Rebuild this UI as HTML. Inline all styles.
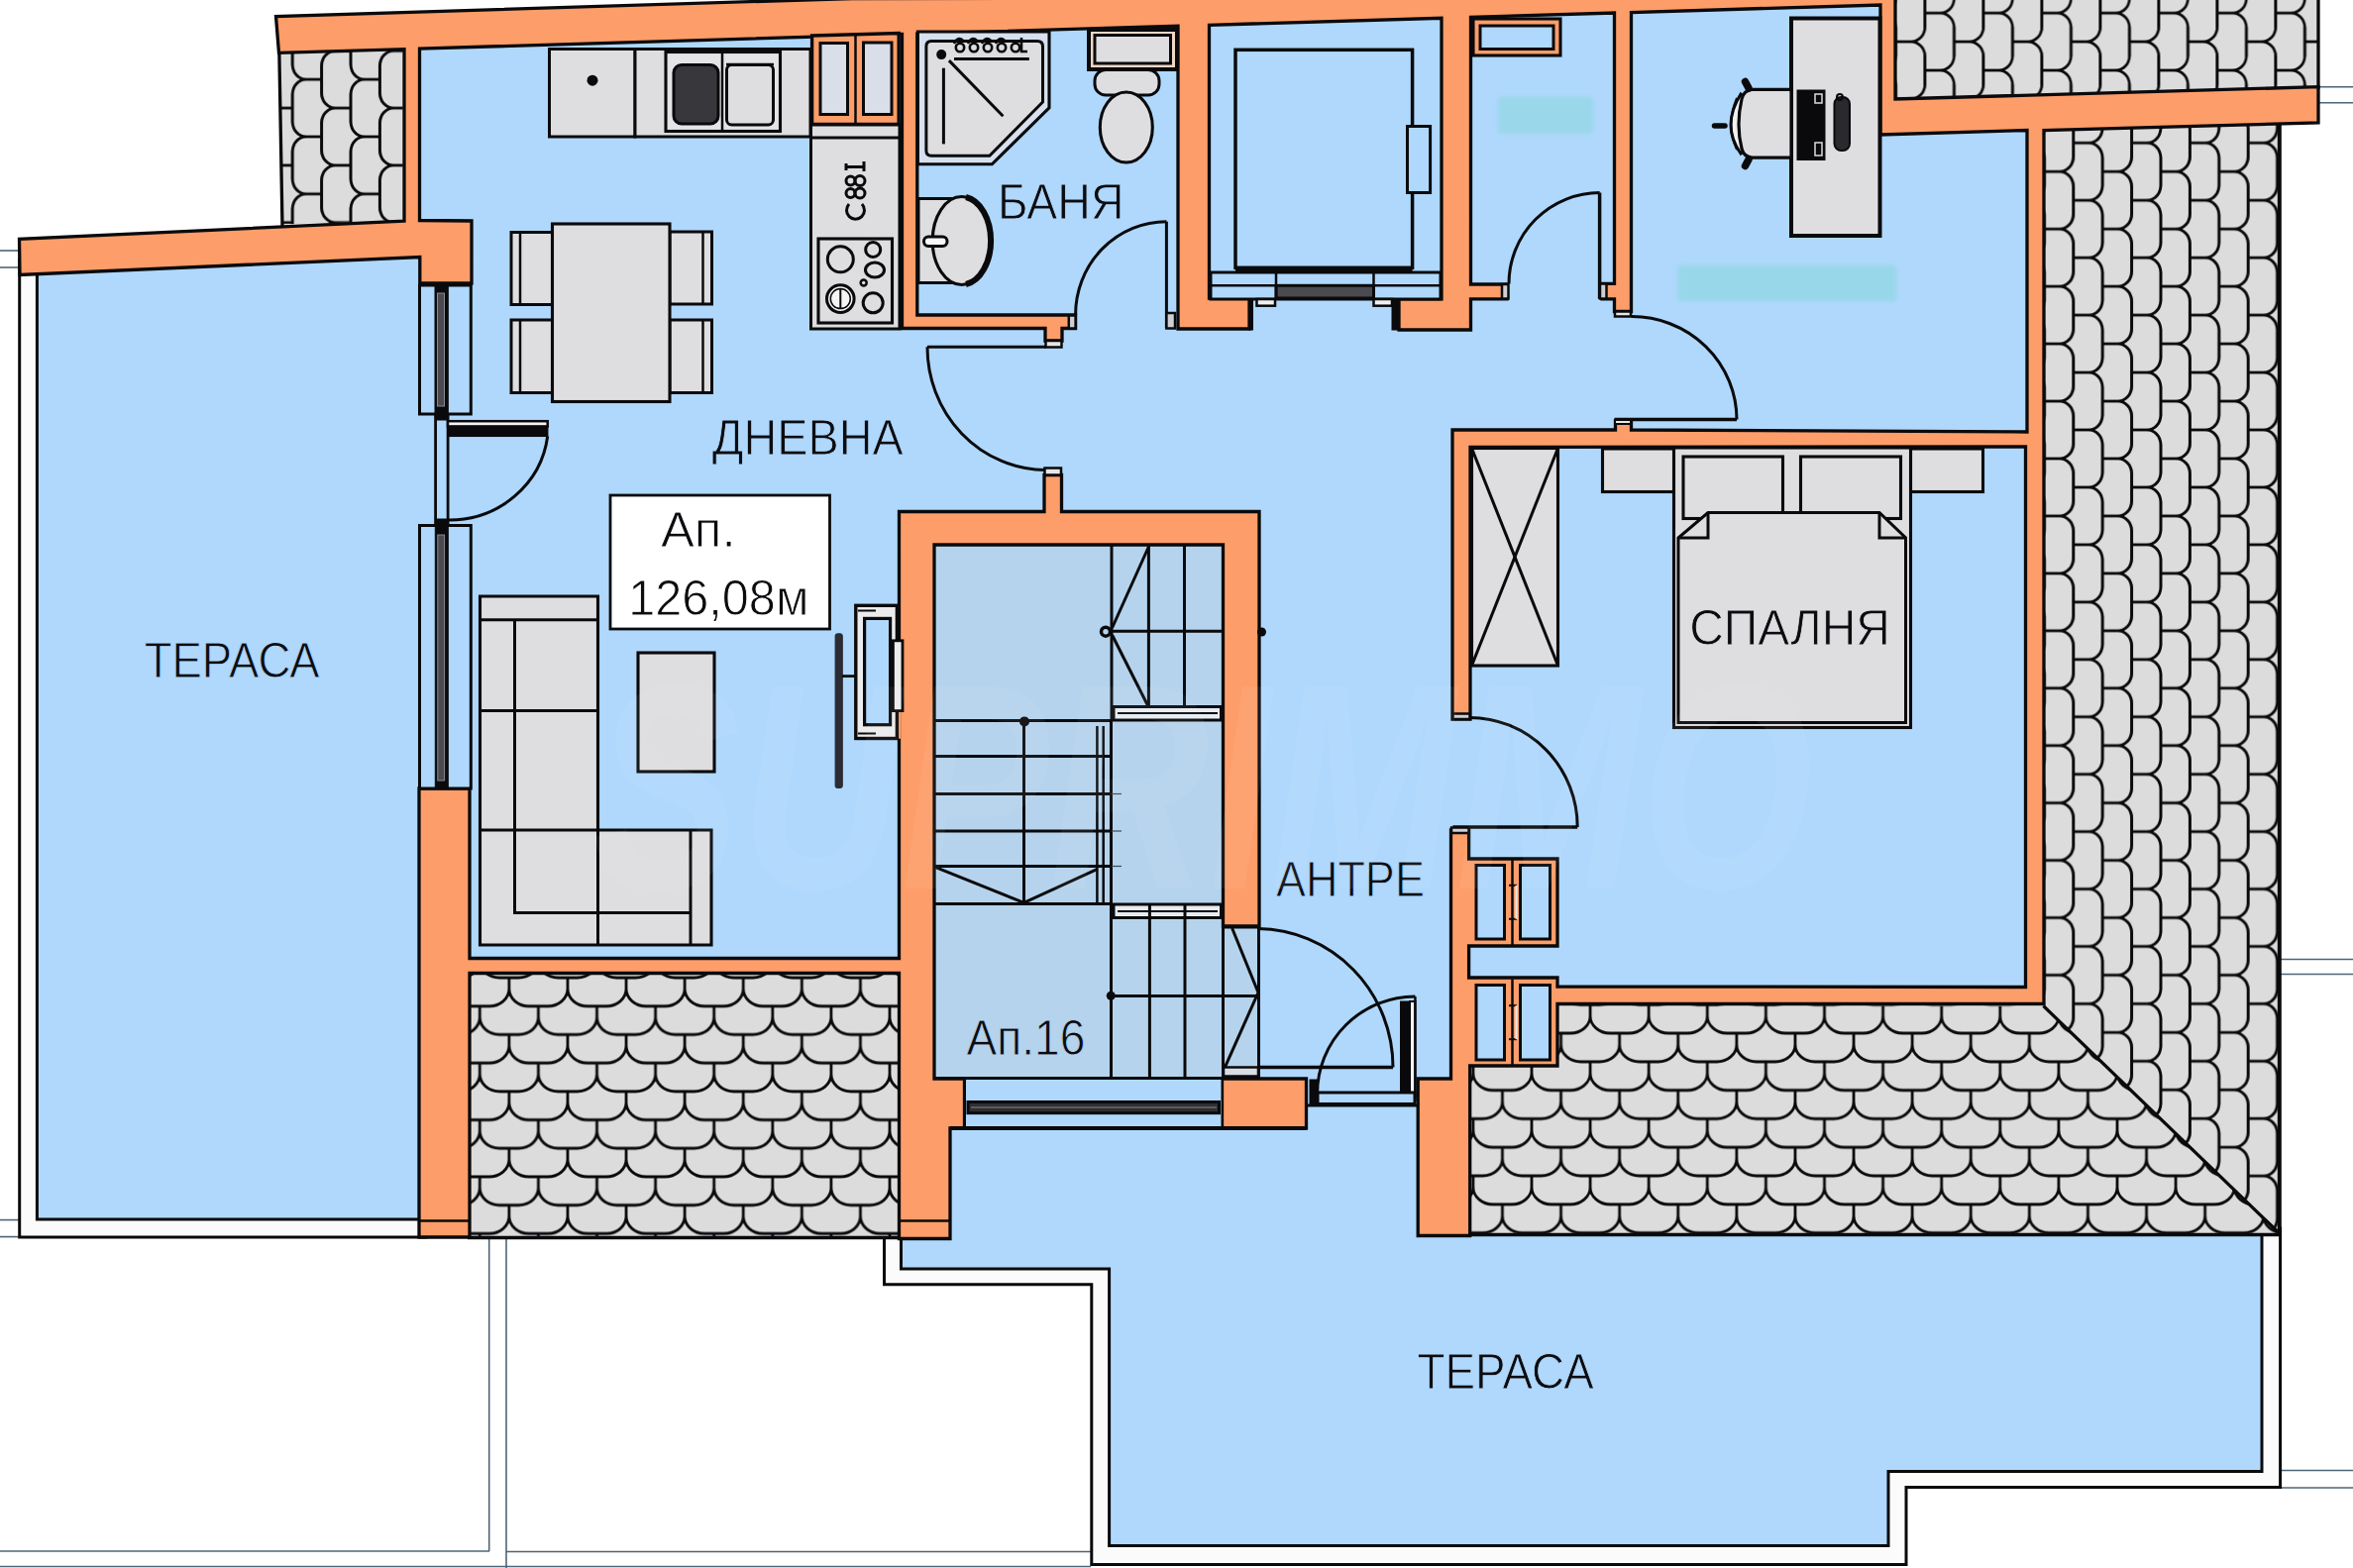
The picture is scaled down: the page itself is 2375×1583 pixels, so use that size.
<!DOCTYPE html>
<html lang="bg"><head><meta charset="utf-8"><title>План на апартамент</title>
<style>
html,body{margin:0;padding:0;background:#fff;}
body{width:2375px;height:1583px;overflow:hidden;}
svg{display:block;}
text{font-family:"Liberation Sans","DejaVu Sans",sans-serif;fill:#0c0c10;}
</style></head><body>
<svg width="2375" height="1583" viewBox="0 0 2375 1583">
<defs>
<pattern id="pDownL" patternUnits="userSpaceOnUse" width="59.10" height="57.40" patternTransform="translate(513.85,987.1)"><rect x="-2" y="-2" width="63.10" height="61.40" fill="#dcdcdc"/><path d="M0,0.00 L0,11.20 A20.0,17.5 0 0 0 20.00,28.70 L39.10,28.70 A20.0,17.5 0 0 0 59.10,11.20 L59.10,0.00 M29.55,28.70 L29.55,39.90 A20.0,17.5 0 0 0 49.55,57.40 L60.10,57.40 M29.55,39.90 A20.0,17.5 0 0 1 9.55,57.40 L-1.00,57.40 M29.55,-28.70 L29.55,-17.50 A20.0,17.5 0 0 0 49.55,0.00 L60.10,0.00 M29.55,-17.50 A20.0,17.5 0 0 1 9.55,0.00 L-1.00,0.00 M0,57.40 L0,68.60 A20.0,17.5 0 0 0 20.00,86.10 L39.10,86.10 A20.0,17.5 0 0 0 59.10,68.60 L59.10,57.40 " fill="none" stroke="#0a0a0c" stroke-width="2.8"/></pattern>
<pattern id="pDownR" patternUnits="userSpaceOnUse" width="59.10" height="57.60" patternTransform="translate(1605.1,1014.3)"><rect x="-2" y="-2" width="63.10" height="61.60" fill="#dcdcdc"/><path d="M0,0.00 L0,11.30 A20.0,17.5 0 0 0 20.00,28.80 L39.10,28.80 A20.0,17.5 0 0 0 59.10,11.30 L59.10,0.00 M29.55,28.80 L29.55,40.10 A20.0,17.5 0 0 0 49.55,57.60 L60.10,57.60 M29.55,40.10 A20.0,17.5 0 0 1 9.55,57.60 L-1.00,57.60 M29.55,-28.80 L29.55,-17.50 A20.0,17.5 0 0 0 49.55,0.00 L60.10,0.00 M29.55,-17.50 A20.0,17.5 0 0 1 9.55,0.00 L-1.00,0.00 M0,57.60 L0,68.90 A20.0,17.5 0 0 0 20.00,86.40 L39.10,86.40 A20.0,17.5 0 0 0 59.10,68.90 L59.10,57.60 " fill="none" stroke="#0a0a0c" stroke-width="2.8"/></pattern>
<pattern id="pRight" patternUnits="userSpaceOnUse" width="57.94" height="58.80" patternTransform="matrix(0 1 1 0 2063.4 57.4)"><rect x="-2" y="-2" width="61.94" height="62.80" fill="#dcdcdc"/><path d="M0,0.00 L0,15.40 A15.0,14.0 0 0 0 15.00,29.40 L42.94,29.40 A15.0,14.0 0 0 0 57.94,15.40 L57.94,0.00 M28.97,29.40 L28.97,44.80 A15.0,14.0 0 0 0 43.97,58.80 L58.94,58.80 M28.97,44.80 A15.0,14.0 0 0 1 13.97,58.80 L-1.00,58.80 M28.97,-29.40 L28.97,-14.00 A15.0,14.0 0 0 0 43.97,0.00 L58.94,0.00 M28.97,-14.00 A15.0,14.0 0 0 1 13.97,0.00 L-1.00,0.00 M0,58.80 L0,74.20 A15.0,14.0 0 0 0 15.00,88.20 L42.94,88.20 A15.0,14.0 0 0 0 57.94,74.20 L57.94,58.80 " fill="none" stroke="#0a0a0c" stroke-width="2.8"/></pattern>
<pattern id="pTopR" patternUnits="userSpaceOnUse" width="57.80" height="59.00" patternTransform="matrix(0 1 1 0 1913.4 42.1)"><rect x="-2" y="-2" width="61.80" height="63.00" fill="#dcdcdc"/><path d="M0,0.00 L0,15.50 A15.0,14.0 0 0 0 15.00,29.50 L42.80,29.50 A15.0,14.0 0 0 0 57.80,15.50 L57.80,0.00 M28.90,29.50 L28.90,45.00 A15.0,14.0 0 0 0 43.90,59.00 L58.80,59.00 M28.90,45.00 A15.0,14.0 0 0 1 13.90,59.00 L-1.00,59.00 M28.90,-29.50 L28.90,-14.00 A15.0,14.0 0 0 0 43.90,0.00 L58.80,0.00 M28.90,-14.00 A15.0,14.0 0 0 1 13.90,0.00 L-1.00,0.00 M0,59.00 L0,74.50 A15.0,14.0 0 0 0 15.00,88.50 L42.80,88.50 A15.0,14.0 0 0 0 57.80,74.50 L57.80,59.00 " fill="none" stroke="#0a0a0c" stroke-width="2.8"/></pattern>
<pattern id="pLeft" patternUnits="userSpaceOnUse" width="57.80" height="58.80" patternTransform="matrix(0 1 -1 0 412.8 51.3)"><rect x="-2" y="-2" width="61.80" height="62.80" fill="#dcdcdc"/><path d="M0,0.00 L0,15.40 A15.0,14.0 0 0 0 15.00,29.40 L42.80,29.40 A15.0,14.0 0 0 0 57.80,15.40 L57.80,0.00 M28.90,29.40 L28.90,44.80 A15.0,14.0 0 0 0 43.90,58.80 L58.80,58.80 M28.90,44.80 A15.0,14.0 0 0 1 13.90,58.80 L-1.00,58.80 M28.90,-29.40 L28.90,-14.00 A15.0,14.0 0 0 0 43.90,0.00 L58.80,0.00 M28.90,-14.00 A15.0,14.0 0 0 1 13.90,0.00 L-1.00,0.00 M0,58.80 L0,74.20 A15.0,14.0 0 0 0 15.00,88.20 L42.80,88.20 A15.0,14.0 0 0 0 57.80,74.20 L57.80,58.80 " fill="none" stroke="#0a0a0c" stroke-width="2.8"/></pattern>
<clipPath id="clipR"><polygon points="2063,100 2300,100 2300,1247 2063,1013"/></clipPath>
<filter id="soft" x="-10%" y="-30%" width="120%" height="160%"><feGaussianBlur stdDeviation="2.2"/></filter>
</defs>
<rect x="0" y="0" width="2375" height="1583" fill="#ffffff"/>
<line x1="0.0" y1="253.0" x2="19.0" y2="253.0" stroke="#4d6576" stroke-width="1.6" />
<line x1="0.0" y1="270.0" x2="19.0" y2="270.0" stroke="#4d6576" stroke-width="1.6" />
<line x1="0.0" y1="1231.6" x2="20.0" y2="1231.6" stroke="#4d6576" stroke-width="1.6" />
<line x1="0.0" y1="1248.6" x2="20.0" y2="1248.6" stroke="#4d6576" stroke-width="1.6" />
<line x1="493.7" y1="1249.0" x2="493.7" y2="1566.0" stroke="#4d6576" stroke-width="1.6" />
<line x1="511.0" y1="1249.0" x2="511.0" y2="1583.0" stroke="#4d6576" stroke-width="1.6" />
<line x1="0.0" y1="1566.0" x2="494.0" y2="1566.0" stroke="#4d6576" stroke-width="1.6" />
<line x1="511.0" y1="1566.5" x2="1101.0" y2="1566.5" stroke="#4d6576" stroke-width="1.6" />
<line x1="0.0" y1="1581.5" x2="1101.0" y2="1581.5" stroke="#4d6576" stroke-width="1.6" />
<line x1="2302.0" y1="1484.5" x2="2375.0" y2="1484.5" stroke="#4d6576" stroke-width="1.6" />
<line x1="2302.0" y1="1502.0" x2="2375.0" y2="1502.0" stroke="#4d6576" stroke-width="1.6" />
<line x1="2302.0" y1="968.5" x2="2375.0" y2="968.5" stroke="#4d6576" stroke-width="1.6" />
<line x1="2302.0" y1="983.5" x2="2375.0" y2="983.5" stroke="#4d6576" stroke-width="1.6" />
<line x1="2341.0" y1="87.7" x2="2375.0" y2="87.7" stroke="#4d6576" stroke-width="1.6" />
<line x1="2341.0" y1="103.7" x2="2375.0" y2="103.7" stroke="#4d6576" stroke-width="1.6" />
<polygon points="19.7,262.0 430.0,250.0 430.0,1249.0 19.7,1249.0" fill="#fbfbfb" stroke="#0a0a0c" stroke-width="3" stroke-linejoin="miter" />
<polygon points="892.5,1240.0 892.5,1296.8 1101.8,1296.8 1101.8,1579.5 1924.0,1579.5 1924.0,1501.5 2301.6,1501.5 2301.6,1240.0" fill="#fbfbfb" stroke="#0a0a0c" stroke-width="3" stroke-linejoin="miter" />
<polygon points="37.4,262.0 430.0,250.0 430.0,1231.0 37.4,1231.0" fill="#afd8fc" stroke="#0a0a0c" stroke-width="3" stroke-linejoin="miter" />
<polygon points="909.5,1235.0 909.5,1281.0 1119.6,1281.0 1119.6,1560.5 1906.0,1560.5 1906.0,1485.5 2283.0,1485.5 2283.0,1235.0" fill="#afd8fc" stroke="#0a0a0c" stroke-width="3" stroke-linejoin="miter" />
<polygon points="415.0,40.0 1905.0,-6.0 1905.0,112.0 2055.0,112.0 2055.0,1005.0 1475.0,1005.0 1475.0,1240.0 935.0,1240.0 935.0,975.0 440.0,975.0 440.0,800.0 424.0,800.0 424.0,262.0 415.0,262.0" fill="#afd8fc" stroke="none" stroke-width="0" stroke-linejoin="miter" />
<rect x="943.0" y="550.0" width="291.0" height="538.0" fill="#b5d3ec" stroke="none" stroke-width="0" rx="0" />
<rect x="1234.0" y="936.0" width="36.0" height="151.0" fill="#b5d3ec" stroke="none" stroke-width="0" rx="0" />
<polygon points="282.0,53.0 406.8,49.5 406.8,223.0 284.9,226.5" fill="url(#pLeft)" stroke="none" stroke-width="0" stroke-linejoin="miter" />
<line x1="281.8" y1="50.0" x2="285.0" y2="228.0" stroke="#0a0a0c" stroke-width="3.3" />
<polygon points="1914.0,-3.0 2340.0,-3.0 2340.0,88.5 1914.0,100.8" fill="url(#pTopR)" stroke="none" stroke-width="0" stroke-linejoin="miter" />
<polygon points="2063.0,120.0 2300.5,115.0 2300.5,1245.0 2063.0,1016.0" fill="url(#pRight)" stroke="none" stroke-width="0" stroke-linejoin="miter" />
<polygon points="1572.0,1014.5 2062.5,1015.5 2300.5,1245.0 2300.5,1246.5 1483.0,1246.5 1483.0,1076.4 1572.0,1076.4" fill="url(#pDownR)" stroke="none" stroke-width="0" stroke-linejoin="miter" />
<polygon points="474.0,983.5 907.5,983.5 907.5,1249.5 474.0,1249.5" fill="url(#pDownL)" stroke="none" stroke-width="0" stroke-linejoin="miter" />
<line x1="472.0" y1="1249.5" x2="909.0" y2="1249.5" stroke="#0a0a0c" stroke-width="3.4" />
<line x1="2300.8" y1="118.0" x2="2300.8" y2="1248.0" stroke="#0a0a0c" stroke-width="4" />
<line x1="1481.5" y1="1246.5" x2="2302.8" y2="1246.5" stroke="#0a0a0c" stroke-width="3.6" />
<line x1="2062.5" y1="1015.5" x2="2300.5" y2="1245.0" stroke="#0a0a0c" stroke-width="3.2" />
<line x1="2340.0" y1="-2.0" x2="2340.0" y2="90.0" stroke="#0a0a0c" stroke-width="3.3" />
<path d="M408.0,223.2 L19.5,241.4 L20.0,277.5 L423.8,259.5 L423.8,286.0 L476.0,286.0 L476.0,223.0 L423.5,222.5 L423.5,49.1 L910.5,34.5 L910.5,331.5 L1055.0,331.5 L1055.0,344.0 L1072.0,344.0 L1072.0,331.5 L1085.6,331.5 L1085.6,318.0 L925.8,318.0 L925.8,34.1 L1189.0,26.2 L1189.0,332.0 L1261.0,332.0 L1261.0,301.0 L1220.5,301.0 L1220.5,25.3 L1455.0,18.3 L1455.0,301.8 L1412.0,301.8 L1412.0,333.0 L1484.5,333.0 L1484.5,301.8 L1521.0,301.8 L1521.0,287.0 L1484.5,287.0 L1484.5,17.4 L1629.5,13.0 L1629.5,286.4 L1617.0,286.4 L1617.0,301.8 L1629.5,301.8 L1629.5,314.5 L1646.5,314.5 L1646.5,12.5 L1898.0,5.0 L1898.0,136.0 L2046.0,131.5 L2046.0,436.0 L1646.5,434.0 L1646.5,424.6 L1630.5,424.6 L1630.5,434.0 L1466.0,434.0 L1466.0,726.0 L1484.0,726.0 L1484.0,451.4 L2044.5,451.0 L2044.5,996.5 L1572.0,996.0 L1572.0,987.0 L1482.6,987.0 L1482.6,955.0 L1572.0,955.0 L1572.0,867.0 L1482.6,867.0 L1482.6,838.0 L1464.5,838.0 L1464.5,1089.0 L1431.2,1089.0 L1431.2,1247.5 L1483.7,1247.5 L1483.7,1076.0 L1572.0,1076.0 L1572.0,1013.5 L2063.0,1013.5 L2063.0,131.5 L2340.0,124.0 L2340.0,87.7 L1913.0,100.0 L1913.0,4.6 L1913.0,-2.0 L1898.0,-2.0 L1898.0,-2.0 L860.0,-1.5 L278.5,16.5 L281.5,53.3 L408.0,49.6 Z M1054.0,516.5 L907.5,516.5 L907.5,967.5 L474.0,967.5 L474.0,796.0 L423.0,796.0 L423.0,1249.0 L474.0,1249.0 L474.0,982.5 L907.5,982.5 L907.5,1250.5 L959.0,1250.5 L959.0,1139.0 L973.5,1139.0 L973.5,1089.0 L943.0,1089.0 L943.0,550.0 L1234.5,550.0 L1234.5,935.0 L1271.0,935.0 L1271.0,516.5 L1071.5,516.5 L1071.5,479.5 L1054.0,479.5 Z M1233.5,1089.0 L1233.5,1139.0 L1318.5,1139.0 L1318.5,1089.0 Z " fill="#fd9d69" stroke="#0a0a0c" stroke-width="3.3" fill-rule="evenodd" stroke-linejoin="miter"/>
<line x1="423.0" y1="1232.6" x2="474.0" y2="1232.6" stroke="#0a0a0c" stroke-width="2.5" />
<line x1="908.0" y1="1232.6" x2="959.0" y2="1232.6" stroke="#0a0a0c" stroke-width="2.5" />
<polygon points="819.6,36.0 907.2,33.5 907.2,125.5 819.6,125.5" fill="#fd9d69" stroke="#0a0a0c" stroke-width="3.4" stroke-linejoin="miter" />
<rect x="1490.0" y="873.5" width="28.5" height="74.5" fill="#afd8fc" stroke="#0a0a0c" stroke-width="3" rx="0" />
<rect x="1534.5" y="873.5" width="30.0" height="74.5" fill="#afd8fc" stroke="#0a0a0c" stroke-width="3" rx="0" />
<line x1="1526.5" y1="867.5" x2="1526.5" y2="954.0" stroke="#0a0a0c" stroke-width="2.5" />
<line x1="1523.0" y1="893.8" x2="1531.0" y2="893.8" stroke="#0a0a0c" stroke-width="2" />
<line x1="1523.0" y1="927.8" x2="1531.0" y2="927.8" stroke="#0a0a0c" stroke-width="2" />
<line x1="1530.5" y1="893.8" x2="1530.5" y2="927.8" stroke="#e8e8e8" stroke-width="2" />
<rect x="1490.0" y="994.5" width="28.5" height="75.5" fill="#afd8fc" stroke="#0a0a0c" stroke-width="3" rx="0" />
<rect x="1534.5" y="994.5" width="30.0" height="75.5" fill="#afd8fc" stroke="#0a0a0c" stroke-width="3" rx="0" />
<line x1="1526.5" y1="988.5" x2="1526.5" y2="1076.0" stroke="#0a0a0c" stroke-width="2.5" />
<line x1="1523.0" y1="1015.2" x2="1531.0" y2="1015.2" stroke="#0a0a0c" stroke-width="2" />
<line x1="1523.0" y1="1049.2" x2="1531.0" y2="1049.2" stroke="#0a0a0c" stroke-width="2" />
<line x1="1530.5" y1="1015.2" x2="1530.5" y2="1049.2" stroke="#e8e8e8" stroke-width="2" />
<rect x="828.0" y="43.5" width="27.5" height="72.0" fill="#d9dee8" stroke="#0a0a0c" stroke-width="3" rx="0" />
<rect x="871.5" y="43.0" width="28.5" height="72.5" fill="#d9dee8" stroke="#0a0a0c" stroke-width="3" rx="0" />
<line x1="863.5" y1="34.0" x2="863.5" y2="125.0" stroke="#0a0a0c" stroke-width="2.5" />
<rect x="554.5" y="49.5" width="86.5" height="88.5" fill="#dedee1" stroke="#0a0a0c" stroke-width="3" rx="0" />
<circle cx="598.0" cy="81.2" r="5.5" fill="#0a0a0c" stroke="#0a0a0c" stroke-width="0"/>
<rect x="641.0" y="49.5" width="177.0" height="88.5" fill="#dedee1" stroke="#0a0a0c" stroke-width="3" rx="0" />
<rect x="672.0" y="52.5" width="115.5" height="80.0" fill="#e4e4e6" stroke="#0a0a0c" stroke-width="3.1" rx="0" />
<rect x="680.0" y="65.5" width="45.0" height="59.5" fill="#38383c" stroke="#0a0a0c" stroke-width="3" rx="8" />
<rect x="733.5" y="65.5" width="47.0" height="60.5" fill="#dedee1" stroke="#0a0a0c" stroke-width="3" rx="5" />
<line x1="729.0" y1="53.0" x2="729.0" y2="132.0" stroke="#0a0a0c" stroke-width="2.5" />
<line x1="733.0" y1="65.0" x2="781.0" y2="65.0" stroke="#0a0a0c" stroke-width="2.5" />
<rect x="818.5" y="126.0" width="89.5" height="206.0" fill="#dedee1" stroke="#0a0a0c" stroke-width="3" rx="0" />
<line x1="818.5" y1="139.0" x2="908.0" y2="139.0" stroke="#0a0a0c" stroke-width="3" />
<rect x="826.0" y="241.0" width="74.5" height="85.0" fill="#dedee1" stroke="#0a0a0c" stroke-width="3.1" rx="0" />
<circle cx="848.3" cy="261.8" r="13.0" fill="none" stroke="#0a0a0c" stroke-width="3"/>
<circle cx="881.2" cy="252.0" r="7.5" fill="none" stroke="#0a0a0c" stroke-width="3"/>
<ellipse cx="883.0" cy="272.5" rx="9.5" ry="7.5" fill="none" stroke="#0a0a0c" stroke-width="3.1" />
<circle cx="871.7" cy="285.6" r="3.0" fill="none" stroke="#0a0a0c" stroke-width="2.5"/>
<circle cx="848.3" cy="301.6" r="13.8" fill="#f4f4f4" stroke="#0a0a0c" stroke-width="3"/>
<circle cx="848.3" cy="301.6" r="10.0" fill="none" stroke="#0a0a0c" stroke-width="1.5"/>
<line x1="848.3" y1="292.0" x2="848.3" y2="311.0" stroke="#0a0a0c" stroke-width="2" />
<circle cx="881.2" cy="305.8" r="10.0" fill="none" stroke="#0a0a0c" stroke-width="3"/>
<g transform="translate(863,189) rotate(-90)" fill="none" stroke="#0a0a0c" stroke-width="3"><path d="M-17,-6 A9,9 0 1 0 -17,7"/><circle cx="-6" cy="-4.5" r="4.5"/><circle cx="-6" cy="5" r="5"/><circle cx="6.5" cy="-4.5" r="4.5"/><circle cx="6.5" cy="5" r="5"/><path d="M17,-9 L24,-9 M20.5,-9 L20.5,9 M16,9 L26,9"/></g>
<rect x="516.0" y="234.5" width="42.0" height="73.0" fill="#dedee1" stroke="#0a0a0c" stroke-width="3" rx="0" />
<line x1="525.0" y1="234.5" x2="525.0" y2="307.5" stroke="#0a0a0c" stroke-width="2.5" />
<rect x="516.0" y="323.0" width="42.0" height="73.5" fill="#dedee1" stroke="#0a0a0c" stroke-width="3" rx="0" />
<line x1="525.0" y1="323.0" x2="525.0" y2="396.5" stroke="#0a0a0c" stroke-width="2.5" />
<rect x="676.0" y="234.0" width="42.5" height="73.0" fill="#dedee1" stroke="#0a0a0c" stroke-width="3" rx="0" />
<line x1="709.5" y1="234.0" x2="709.5" y2="307.0" stroke="#0a0a0c" stroke-width="2.5" />
<rect x="676.0" y="323.0" width="42.5" height="73.5" fill="#dedee1" stroke="#0a0a0c" stroke-width="3" rx="0" />
<line x1="709.5" y1="323.0" x2="709.5" y2="396.5" stroke="#0a0a0c" stroke-width="2.5" />
<rect x="557.5" y="226.0" width="118.5" height="179.5" fill="#dedee1" stroke="#0a0a0c" stroke-width="3.1" rx="0" />
<polygon points="484.5,602.0 603.5,602.0 603.5,838.0 718.0,838.0 718.0,954.0 484.5,954.0" fill="#dedee1" stroke="#0a0a0c" stroke-width="3.1" stroke-linejoin="miter" />
<polyline points="484.5,625.8 603.5,625.8" fill="none" stroke="#0a0a0c" stroke-width="3" />
<polyline points="519.5,625.8 519.5,921.6 697.0,921.6" fill="none" stroke="#0a0a0c" stroke-width="3" />
<polyline points="484.5,717.6 603.5,717.6" fill="none" stroke="#0a0a0c" stroke-width="3" />
<polyline points="484.5,838.0 603.5,838.0" fill="none" stroke="#0a0a0c" stroke-width="3" />
<polyline points="603.5,838.0 603.5,954.0" fill="none" stroke="#0a0a0c" stroke-width="3" />
<polyline points="697.0,838.0 697.0,954.0" fill="none" stroke="#0a0a0c" stroke-width="3" />
<rect x="644.0" y="659.0" width="77.0" height="120.0" fill="#dedee1" stroke="#0a0a0c" stroke-width="3.1" rx="0" />
<rect x="616.0" y="500.0" width="221.5" height="135.0" fill="#ffffff" stroke="#0a0a0c" stroke-width="2.8" rx="0" />
<rect x="901.4" y="717.6" width="7.6" height="28.1" fill="#fd9d69" stroke="none" stroke-width="0" rx="0" />
<rect x="863.8" y="611.3" width="41.6" height="134.2" fill="#ececec" stroke="#0a0a0c" stroke-width="3.4" rx="0" />
<rect x="872.6" y="624.4" width="26.0" height="107.3" fill="#afd8fc" stroke="#0a0a0c" stroke-width="3.2" rx="0" />
<line x1="866.0" y1="616.5" x2="884.0" y2="616.5" stroke="#0a0a0c" stroke-width="2" />
<line x1="866.0" y1="740.5" x2="884.0" y2="740.5" stroke="#0a0a0c" stroke-width="2" />
<rect x="901.4" y="646.8" width="9.6" height="70.8" fill="#ececec" stroke="#0a0a0c" stroke-width="2.8" rx="0" />
<rect x="843.1" y="639.8" width="7.2" height="155.7" fill="#2b2b33" stroke="#2b2b33" stroke-width="1" rx="2" />
<line x1="850.0" y1="682.6" x2="864.0" y2="682.6" stroke="#0a0a0c" stroke-width="2.8" />
<polygon points="926.4,32.0 1059.0,32.0 1059.0,108.8 1001.3,165.8 926.4,165.8" fill="#d6e0ee" stroke="#0a0a0c" stroke-width="3.1" stroke-linejoin="miter" />
<path d="M940,41.5 L1047,41.5 Q1052.5,41.5 1052.5,47 L1052.5,103 L998.8,157.3 L940,157.3 Q934.9,157.3 934.9,152 L934.9,47 Q934.9,41.5 940,41.5 Z" fill="#dedee1" stroke="#0a0a0c" stroke-width="3" />
<circle cx="950.2" cy="55.1" r="5.0" fill="#0a0a0c" stroke="#0a0a0c" stroke-width="0"/>
<line x1="957.9" y1="61.1" x2="1012.4" y2="117.3" stroke="#0a0a0c" stroke-width="3" />
<line x1="952.4" y1="68.7" x2="952.4" y2="145.4" stroke="#0a0a0c" stroke-width="3" />
<line x1="963.0" y1="59.4" x2="1038.8" y2="59.4" stroke="#0a0a0c" stroke-width="3" />
<g fill="none" stroke="#0a0a0c" stroke-width="2.6">
<circle cx="969.0" cy="48" r="4.2"/>
<circle cx="983.0" cy="48" r="4.2"/>
<circle cx="997.0" cy="48" r="4.2"/>
<circle cx="1011.0" cy="48" r="4.2"/>
<circle cx="1025.0" cy="48" r="4.2"/>
<path d="M963,44 q4,-8 9,-3 M977,44 q4,-8 9,-3 M991,44 q4,-8 9,-3 M1005,44 q4,-8 9,-3 M1031,38 L1031,52 L1037,52"/></g>
<rect x="1099.0" y="30.0" width="89.0" height="40.0" fill="#f3d6c4" stroke="#0a0a0c" stroke-width="4" rx="0" />
<rect x="1105.0" y="35.5" width="76.5" height="28.5" fill="#dedee1" stroke="#0a0a0c" stroke-width="3" rx="0" />
<rect x="1105.0" y="70.5" width="65.0" height="25.5" fill="#dedee1" stroke="#0a0a0c" stroke-width="3" rx="11" />
<ellipse cx="1136.8" cy="128.5" rx="26.5" ry="35.5" fill="#dedee1" stroke="#0a0a0c" stroke-width="3.1" />
<rect x="927.0" y="200.5" width="45.0" height="85.0" fill="#dedee1" stroke="#0a0a0c" stroke-width="3" rx="0" />
<ellipse cx="970.7" cy="243.0" rx="29.5" ry="44.5" fill="#dedee1" stroke="#0a0a0c" stroke-width="3.1" />
<path d="M975,199 A29.5,44.5 0 0 1 975,287" fill="none" stroke="#0a0a0c" stroke-width="6" />
<rect x="932.5" y="239.0" width="23.5" height="9.5" fill="#f8f8f8" stroke="#0a0a0c" stroke-width="3" rx="4.5" />
<rect x="1485.5" y="452.5" width="87.0" height="219.5" fill="#dedee1" stroke="#0a0a0c" stroke-width="3.1" rx="0" />
<line x1="1485.5" y1="452.5" x2="1572.5" y2="672.0" stroke="#0a0a0c" stroke-width="3" />
<line x1="1572.5" y1="452.5" x2="1485.5" y2="672.0" stroke="#0a0a0c" stroke-width="3" />
<rect x="1617.5" y="453.0" width="72.5" height="43.5" fill="#dedee1" stroke="#0a0a0c" stroke-width="3.1" rx="0" />
<rect x="1928.5" y="453.0" width="73.0" height="43.5" fill="#dedee1" stroke="#0a0a0c" stroke-width="3.1" rx="0" />
<rect x="1689.5" y="452.0" width="239.0" height="282.5" fill="#dedee1" stroke="#0a0a0c" stroke-width="3.1" rx="0" />
<rect x="1699.0" y="461.0" width="100.5" height="62.5" fill="#dedee1" stroke="#0a0a0c" stroke-width="3.1" rx="0" />
<rect x="1817.5" y="461.0" width="101.0" height="62.5" fill="#dedee1" stroke="#0a0a0c" stroke-width="3.1" rx="0" />
<path d="M1724,517.5 L1897,517.5 L1923.5,543 L1923.5,729.5 L1694,729.5 L1694,543 Z" fill="#dedee1" stroke="#0a0a0c" stroke-width="3" />
<path d="M1694,543 L1724,543 L1724,517.5" fill="none" stroke="#0a0a0c" stroke-width="3" />
<path d="M1923.5,543 L1897,543 L1897,517.5" fill="none" stroke="#0a0a0c" stroke-width="3" />
<rect x="1808.0" y="18.5" width="89.5" height="219.5" fill="#dedee1" stroke="#0a0a0c" stroke-width="4" rx="0" />
<path d="M1757,95 Q1737,126.9 1757,155 L1763,150 Q1750,126.9 1763,100 Z" fill="#f1f1f1" stroke="#0a0a0c" stroke-width="3" />
<path d="M1808,90.4 L1768,90.4 Q1760,91.5 1758,100 Q1752,126 1758,150 Q1760,158 1768,159.2 L1808,159.2 Z" fill="#dedee1" stroke="#0a0a0c" stroke-width="3.2" />
<path d="M1753,99 Q1741.5,126.9 1753,151" fill="none" stroke="#0a0a0c" stroke-width="2" />
<path d="M1765,89 L1761.5,82.5" fill="none" stroke="#0a0a0c" stroke-width="7.5" stroke-linecap="round"/>
<path d="M1765,161 L1761.5,167.5" fill="none" stroke="#0a0a0c" stroke-width="7.5" stroke-linecap="round"/>
<path d="M1741,126.9 L1730.5,126.9" fill="none" stroke="#0a0a0c" stroke-width="5.5" stroke-linecap="round"/>
<rect x="1814.0" y="91.0" width="28.0" height="70.5" fill="#0a0a0c" stroke="#0a0a0c" stroke-width="1" rx="0" />
<rect x="1832.0" y="95.0" width="7.0" height="9.0" fill="none" stroke="#dddddd" stroke-width="1.5" rx="0" />
<rect x="1832.0" y="144.0" width="7.0" height="13.0" fill="none" stroke="#dddddd" stroke-width="1.5" rx="0" />
<rect x="1851.5" y="98.0" width="15.5" height="54.0" fill="#2a2a2e" stroke="#0a0a0c" stroke-width="2" rx="7" />
<circle cx="1857.0" cy="98.0" r="3.0" fill="none" stroke="#0a0a0c" stroke-width="2"/>
<rect x="1512" y="98" width="96" height="37" rx="4" fill="#9ad7ea" filter="url(#soft)"/>
<rect x="1693" y="268" width="221" height="36" rx="3" fill="#98d7e9" filter="url(#soft)"/>
<rect x="1487.0" y="19.0" width="88.0" height="37.0" fill="#fd9d69" stroke="#0a0a0c" stroke-width="3.1" rx="0" />
<rect x="1494.0" y="26.0" width="74.0" height="23.5" fill="#afd8fc" stroke="#0a0a0c" stroke-width="3" rx="0" />
<rect x="423.5" y="288.0" width="51.8" height="130.0" fill="#afd8fc" stroke="#0a0a0c" stroke-width="3" rx="0" />
<rect x="439.0" y="288.0" width="13.3" height="130.0" fill="#0a0a0c" stroke="#0a0a0c" stroke-width="1" rx="0" />
<rect x="441.5" y="296.0" width="7.0" height="114.0" fill="#4a4a50" stroke="#8a8a90" stroke-width="1" rx="0" />
<rect x="423.5" y="530.5" width="51.8" height="265.5" fill="#afd8fc" stroke="#0a0a0c" stroke-width="3" rx="0" />
<rect x="439.3" y="531.0" width="13.0" height="265.0" fill="#0a0a0c" stroke="#0a0a0c" stroke-width="1" rx="0" />
<rect x="441.8" y="540.0" width="6.8" height="248.0" fill="#4a4a50" stroke="#8a8a90" stroke-width="1" rx="0" />
<line x1="439.6" y1="418.0" x2="439.6" y2="531.0" stroke="#0a0a0c" stroke-width="2.8" />
<line x1="452.1" y1="418.0" x2="452.1" y2="531.0" stroke="#0a0a0c" stroke-width="2.8" />
<rect x="452.0" y="425.2" width="100.7" height="5.3" fill="#f4f4f4" stroke="#0a0a0c" stroke-width="2.5" rx="0" />
<rect x="452.0" y="430.5" width="100.7" height="9.8" fill="#0a0a0c" stroke="#0a0a0c" stroke-width="1.5" rx="0" />
<path d="M552.7,440.5 A100,97 0 0 1 452.7,525" fill="none" stroke="#0a0a0c" stroke-width="3" />
<rect x="439.6" y="524.0" width="12.5" height="6.5" fill="#0a0a0c" stroke="#0a0a0c" stroke-width="1" rx="0" />
<rect x="439.6" y="418.0" width="12.5" height="6.0" fill="#0a0a0c" stroke="#0a0a0c" stroke-width="1" rx="0" />
<line x1="936.0" y1="350.2" x2="1056.0" y2="350.2" stroke="#0a0a0c" stroke-width="3" />
<path d="M936,350.2 A120,124 0 0 0 1055,474.5" fill="none" stroke="#0a0a0c" stroke-width="3" />
<rect x="1055.5" y="344.0" width="16.0" height="6.5" fill="#e6e6e6" stroke="#0a0a0c" stroke-width="2.5" rx="0" />
<rect x="1054.5" y="472.5" width="16.5" height="7.0" fill="#e6e6e6" stroke="#0a0a0c" stroke-width="2.5" rx="0" />
<line x1="1177.4" y1="223.7" x2="1177.4" y2="331.5" stroke="#0a0a0c" stroke-width="3" />
<path d="M1177.4,223.7 A92,94 0 0 0 1085.6,318" fill="none" stroke="#0a0a0c" stroke-width="3" />
<rect x="1177.4" y="316.0" width="8.6" height="15.5" fill="#cfcfd4" stroke="#0a0a0c" stroke-width="2.5" rx="0" />
<rect x="1078.8" y="318.5" width="6.8" height="13.0" fill="#cfcfd4" stroke="#0a0a0c" stroke-width="2.5" rx="0" />
<line x1="1614.6" y1="194.5" x2="1614.6" y2="301.8" stroke="#0a0a0c" stroke-width="3.5" />
<path d="M1614.6,194.5 A92,92 0 0 0 1523,286.4" fill="none" stroke="#0a0a0c" stroke-width="3" />
<rect x="1516.0" y="287.0" width="6.5" height="14.5" fill="#cfcfd4" stroke="#0a0a0c" stroke-width="2.5" rx="0" />
<rect x="1615.0" y="286.5" width="6.5" height="15.0" fill="#cfcfd4" stroke="#0a0a0c" stroke-width="2.5" rx="0" />
<line x1="1629.5" y1="423.5" x2="1753.0" y2="423.5" stroke="#0a0a0c" stroke-width="3.5" />
<path d="M1646.5,319.6 A106,104 0 0 1 1753,423.5" fill="none" stroke="#0a0a0c" stroke-width="3" />
<rect x="1630.0" y="314.5" width="16.0" height="5.0" fill="#e6e6e6" stroke="#0a0a0c" stroke-width="2.5" rx="0" />
<rect x="1630.0" y="424.0" width="16.0" height="4.0" fill="#e6e6e6" stroke="#0a0a0c" stroke-width="2" rx="0" />
<line x1="1466.4" y1="835.0" x2="1592.2" y2="835.0" stroke="#0a0a0c" stroke-width="3.5" />
<path d="M1483.4,724.4 A109,110.5 0 0 1 1592.2,835" fill="none" stroke="#0a0a0c" stroke-width="3" />
<rect x="1466.5" y="720.5" width="17.0" height="5.5" fill="#d0d0d4" stroke="#0a0a0c" stroke-width="2.5" rx="0" />
<rect x="1465.0" y="835.5" width="17.5" height="5.5" fill="#d0d0d4" stroke="#0a0a0c" stroke-width="2.5" rx="0" />
<rect x="1234.5" y="936.0" width="36.0" height="151.0" fill="none" stroke="#0a0a0c" stroke-width="3" rx="0" />
<path d="M1243.6,937 L1270,1002 L1236,1078.4" fill="none" stroke="#0a0a0c" stroke-width="3" />
<rect x="1235.0" y="1077.5" width="35.0" height="9.0" fill="#d8dde4" stroke="#0a0a0c" stroke-width="2.5" rx="0" />
<line x1="1270.0" y1="1077.5" x2="1406.0" y2="1077.5" stroke="#0a0a0c" stroke-width="3.5" />
<path d="M1270,937.5 A138,140 0 0 1 1406,1077.5" fill="none" stroke="#0a0a0c" stroke-width="3" />
<path d="M1428.4,1006 A99,98 0 0 0 1329.6,1104" fill="none" stroke="#0a0a0c" stroke-width="3" />
<rect x="1413.5" y="1011.0" width="9.5" height="90.5" fill="#0a0a0c" stroke="#0a0a0c" stroke-width="1" rx="0" />
<rect x="1423.0" y="1011.0" width="5.5" height="97.0" fill="#f4f4f4" stroke="#0a0a0c" stroke-width="2" rx="0" />
<line x1="1428.4" y1="1006.0" x2="1428.4" y2="1112.0" stroke="#0a0a0c" stroke-width="2.5" />
<rect x="1330.0" y="1103.0" width="98.0" height="11.5" fill="#afd8fc" stroke="#0a0a0c" stroke-width="3" rx="0" />
<rect x="1322.0" y="1090.0" width="8.5" height="24.5" fill="#0a0a0c" stroke="#0a0a0c" stroke-width="1" rx="0" />
<line x1="1318.5" y1="1116.0" x2="1431.7" y2="1116.0" stroke="#0a0a0c" stroke-width="3" />
<rect x="975.0" y="1089.0" width="257.5" height="50.0" fill="#afd8fc" stroke="none" stroke-width="0" rx="0" />
<rect x="977.0" y="1112.5" width="253.5" height="11.2" fill="#2f2f33" stroke="#0a0a0c" stroke-width="3" rx="0" />
<line x1="980.0" y1="1118.0" x2="1228.0" y2="1118.0" stroke="#6a6a70" stroke-width="1.5" />
<line x1="959.0" y1="1139.0" x2="1318.5" y2="1139.0" stroke="#0a0a0c" stroke-width="4" />
<line x1="943.0" y1="1088.5" x2="1234.0" y2="1088.5" stroke="#0a0a0c" stroke-width="3" />
<rect x="1247.0" y="50.3" width="178.6" height="220.0" fill="none" stroke="#0a0a0c" stroke-width="3.5" rx="0" />
<rect x="1420.5" y="127.5" width="23.1" height="67.0" fill="#afd8fc" stroke="#0a0a0c" stroke-width="3" rx="0" />
<line x1="1247.0" y1="272.0" x2="1425.6" y2="272.0" stroke="#0a0a0c" stroke-width="5" />
<rect x="1222.0" y="275.0" width="232.0" height="27.0" fill="#afd8fc" stroke="#0a0a0c" stroke-width="3" rx="0" />
<line x1="1222.0" y1="288.3" x2="1454.0" y2="288.3" stroke="#0a0a0c" stroke-width="2.5" />
<rect x="1288.0" y="288.3" width="98.5" height="12.7" fill="#4a4a50" stroke="#0a0a0c" stroke-width="3" rx="0" />
<line x1="1288.0" y1="275.0" x2="1288.0" y2="302.0" stroke="#0a0a0c" stroke-width="2.5" />
<line x1="1386.5" y1="275.0" x2="1386.5" y2="302.0" stroke="#0a0a0c" stroke-width="2.5" />
<rect x="1268.5" y="302.0" width="18.5" height="6.7" fill="#f0f0f0" stroke="#0a0a0c" stroke-width="2.5" rx="0" />
<rect x="1386.5" y="302.0" width="18.5" height="6.7" fill="#f0f0f0" stroke="#0a0a0c" stroke-width="2.5" rx="0" />
<rect x="1405.0" y="301.8" width="7.5" height="31.2" fill="#0a0a0c" stroke="#0a0a0c" stroke-width="1" rx="0" />
<rect x="1261.0" y="301.8" width="3.5" height="31.2" fill="#0a0a0c" stroke="#0a0a0c" stroke-width="1" rx="0" />
<line x1="1122.0" y1="550.0" x2="1122.0" y2="727.0" stroke="#0a0a0c" stroke-width="3" />
<line x1="1159.4" y1="550.0" x2="1159.4" y2="727.0" stroke="#0a0a0c" stroke-width="3" />
<line x1="1195.5" y1="550.0" x2="1195.5" y2="727.0" stroke="#0a0a0c" stroke-width="3" />
<line x1="1116.0" y1="637.3" x2="1234.0" y2="637.3" stroke="#0a0a0c" stroke-width="3" />
<circle cx="1116.0" cy="637.7" r="4.5" fill="#b5d3ec" stroke="#0a0a0c" stroke-width="3.5"/>
<line x1="1159.4" y1="552.0" x2="1122.5" y2="634.0" stroke="#0a0a0c" stroke-width="3" />
<line x1="1122.5" y1="641.0" x2="1159.4" y2="714.0" stroke="#0a0a0c" stroke-width="3" />
<rect x="1124.0" y="713.5" width="108.5" height="13.5" fill="#e6ecf2" stroke="#0a0a0c" stroke-width="3" rx="0" />
<line x1="1128.0" y1="720.0" x2="1229.0" y2="720.0" stroke="#0a0a0c" stroke-width="2" />
<circle cx="1273.5" cy="638.0" r="4.5" fill="#0a0a0c" stroke="#0a0a0c" stroke-width="0"/>
<line x1="943.0" y1="727.5" x2="1122.0" y2="727.5" stroke="#0a0a0c" stroke-width="3" />
<line x1="943.0" y1="763.5" x2="1122.0" y2="763.5" stroke="#0a0a0c" stroke-width="3" />
<line x1="943.0" y1="801.5" x2="1122.0" y2="801.5" stroke="#0a0a0c" stroke-width="3" />
<line x1="943.0" y1="839.0" x2="1122.0" y2="839.0" stroke="#0a0a0c" stroke-width="3" />
<line x1="943.0" y1="874.5" x2="1122.0" y2="874.5" stroke="#0a0a0c" stroke-width="3" />
<line x1="943.0" y1="912.5" x2="1122.0" y2="912.5" stroke="#0a0a0c" stroke-width="3" />
<line x1="1033.5" y1="727.5" x2="1033.5" y2="912.5" stroke="#0a0a0c" stroke-width="3" />
<circle cx="1034.0" cy="728.4" r="5.0" fill="#0a0a0c" stroke="#0a0a0c" stroke-width="0"/>
<line x1="1107.4" y1="733.0" x2="1107.4" y2="912.0" stroke="#0a0a0c" stroke-width="2.5" />
<line x1="1113.7" y1="733.0" x2="1113.7" y2="912.0" stroke="#0a0a0c" stroke-width="2.5" />
<line x1="1121.5" y1="727.0" x2="1121.5" y2="1088.0" stroke="#0a0a0c" stroke-width="3" />
<polyline points="944.5,875.7 1033.5,911.4 1107.7,877.4" fill="none" stroke="#0a0a0c" stroke-width="3" />
<line x1="1122.0" y1="801.5" x2="1132.0" y2="801.5" stroke="#3b4a58" stroke-width="1.2" />
<line x1="1122.0" y1="839.0" x2="1132.0" y2="839.0" stroke="#3b4a58" stroke-width="1.2" />
<line x1="1122.0" y1="874.5" x2="1132.0" y2="874.5" stroke="#3b4a58" stroke-width="1.2" />
<rect x="1124.0" y="913.0" width="108.5" height="13.5" fill="#e6ecf2" stroke="#0a0a0c" stroke-width="3" rx="0" />
<line x1="1128.0" y1="920.0" x2="1229.0" y2="920.0" stroke="#0a0a0c" stroke-width="2" />
<line x1="1160.4" y1="913.0" x2="1160.4" y2="1088.0" stroke="#0a0a0c" stroke-width="3" />
<line x1="1196.0" y1="913.0" x2="1196.0" y2="1088.0" stroke="#0a0a0c" stroke-width="3" />
<line x1="1121.5" y1="1005.5" x2="1270.0" y2="1005.5" stroke="#0a0a0c" stroke-width="3" />
<circle cx="1121.3" cy="1005.2" r="4.5" fill="#0a0a0c" stroke="#0a0a0c" stroke-width="0"/>
<text x="718.7" y="459.3" font-size="49.71" textLength="193.0" lengthAdjust="spacingAndGlyphs"  stroke="#afd8fc" stroke-width="0.9" paint-order="fill stroke">ДНЕВНА</text>
<text x="666.9" y="551.6" font-size="50.00" textLength="75.7" lengthAdjust="spacingAndGlyphs"  stroke="#ffffff" stroke-width="0.9" paint-order="fill stroke">Ап.</text>
<text x="634.3" y="621.4" font-size="50.73" textLength="182.0" lengthAdjust="spacingAndGlyphs"  stroke="#ffffff" stroke-width="0.9" paint-order="fill stroke">126,08м</text>
<text x="145.7" y="684.2" font-size="50.44" textLength="176.9" lengthAdjust="spacingAndGlyphs"  stroke="#afd8fc" stroke-width="0.9" paint-order="fill stroke">ТЕРАСА</text>
<text x="1006.9" y="221.0" font-size="49.85" textLength="127.6" lengthAdjust="spacingAndGlyphs"  stroke="#afd8fc" stroke-width="0.9" paint-order="fill stroke">БАНЯ</text>
<text x="1705.2" y="650.6" font-size="50.87" textLength="202.7" lengthAdjust="spacingAndGlyphs"  stroke="#dedee1" stroke-width="0.9" paint-order="fill stroke">СПАЛНЯ</text>
<text x="1287.9" y="905.0" font-size="49.85" textLength="150.0" lengthAdjust="spacingAndGlyphs"  stroke="#afd8fc" stroke-width="0.9" paint-order="fill stroke">АНТРЕ</text>
<text x="975.6" y="1064.7" font-size="49.42" textLength="119.7" lengthAdjust="spacingAndGlyphs"  stroke="#b5d3ec" stroke-width="0.9" paint-order="fill stroke">Ап.16</text>
<text x="1430.6" y="1401.7" font-size="50.44" textLength="178.1" lengthAdjust="spacingAndGlyphs"  stroke="#afd8fc" stroke-width="0.9" paint-order="fill stroke">ТЕРАСА</text>
<text x="598" y="897" font-size="296" font-weight="bold" font-style="italic" textLength="1232" lengthAdjust="spacingAndGlyphs" style="fill:#ffffff" fill-opacity="0.06">SUPRIMMO</text>
</svg>
</body></html>
